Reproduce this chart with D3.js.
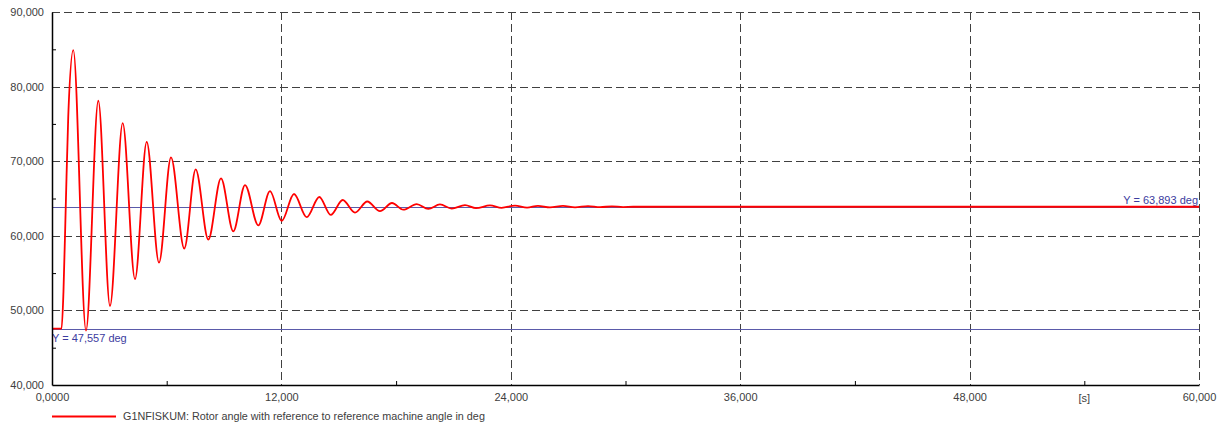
<!DOCTYPE html>
<html>
<head>
<meta charset="utf-8">
<script src="https://cdn.jsdelivr.net/npm/d3@7"></script>
<style>
  html, body { margin: 0; padding: 0; background: #ffffff; }
  svg { display: block; }
  text { font-family: "Liberation Sans", Arial, sans-serif; }
</style>
</head>
<body>
<svg id="chart" width="1223" height="427"></svg>
<script>
// ---- data ----
const timeS = [0, 0.5, 0.6, 0.72, 0.85, 1.114, 1.779, 2.422, 3.034, 3.698, 4.342, 4.954, 5.597, 6.225, 6.92,
  7.517, 8.176, 8.84, 9.484, 10.096, 10.791, 11.404, 12.015, 12.659, 13.323, 13.982, 14.579, 15.206, 15.85,
  16.493, 17.157, 17.785, 18.376, 19.077, 19.684, 20.296, 20.908, 21.604, 22.18, 22.91, 23.52, 24.22, 24.85,
  25.42, 26.05, 26.73, 27.36, 28.04, 28.67, 29.29, 29.87, 30.4, 60];
const rotorAngle = [47.557, 47.557, 52.5, 64.0, 76.0, 84.9, 47.3, 78.1, 50.6, 75.1, 54.2, 72.6, 56.4, 70.5, 58.3,
  68.9, 59.5, 67.7, 60.6, 66.8, 61.4, 66.0, 62.0, 65.6, 62.5, 65.2, 62.8, 64.8, 63.1,
  64.6, 63.3, 64.4, 63.5, 64.25, 63.6, 64.2, 63.65, 64.12, 63.7, 64.08, 63.75, 64.05, 63.78,
  64.02, 63.8, 64.0, 63.82, 63.98, 63.84, 63.95, 63.85, 63.893, 63.893];
const xMajorTicks = [0, 12, 24, 36, 48, 60];
const xMajorLabels = ["0,0000", "12,000", "24,000", "36,000", "48,000", "60,000"];
const xMinorTicks = [6, 18, 30, 42, 54];
const yMajorTicks = [40, 50, 60, 70, 80, 90];
const yMajorLabels = ["40,000", "50,000", "60,000", "70,000", "80,000", "90,000"];
const yMinorTicks = [45, 55, 65, 75, 85];
const refLines = [47.557, 63.893];
const refLabels = ["Y = 47,557 deg", "Y = 63,893 deg"];
const xUnitLabel = "[s]";
const xUnitPos = 54;
const legendText = "G1NFISKUM: Rotor angle with reference to reference machine angle in deg";

// ---- layout ----
const svg = d3.select("#chart");
const pL = 52, pR = 1199, pT = 12, pB = 385;
const x = d3.scaleLinear().domain([0, 60]).range([pL, pR]);
const y = d3.scaleLinear().domain([40, 90]).range([pB, pT]);
const textColor = "#404040";
const gridColor = "#404040";

// grid (dashed)
const grid = svg.append("g");
yMajorTicks.filter(v => v > 40).forEach(v => {
  grid.append("line")
    .attr("x1", pL).attr("x2", pR)
    .attr("y1", Math.round(y(v)) + 0.5).attr("y2", Math.round(y(v)) + 0.5)
    .attr("stroke", gridColor).attr("stroke-width", 1).attr("stroke-dasharray", "8,4");
});
xMajorTicks.filter(v => v > 0).forEach(v => {
  grid.append("line")
    .attr("x1", Math.round(x(v)) + 0.5).attr("x2", Math.round(x(v)) + 0.5)
    .attr("y1", pT).attr("y2", pB)
    .attr("stroke", gridColor).attr("stroke-width", 1).attr("stroke-dasharray", "8,4");
});

// reference lines
const refColor = "#5a5aaa";
refLines.forEach(v => {
  svg.append("line")
    .attr("x1", pL).attr("x2", pR)
    .attr("y1", Math.round(y(v)) + 0.5).attr("y2", Math.round(y(v)) + 0.5)
    .attr("stroke", refColor).attr("stroke-width", 1);
});
svg.append("text")
  .attr("x", pL).attr("y", Math.round(y(refLines[0])) + 13)
  .attr("font-size", 11).attr("fill", "#3c3ca0")
  .text(refLabels[0]);
svg.append("text")
  .attr("x", pR - 1).attr("y", Math.round(y(refLines[1])) - 3)
  .attr("text-anchor", "end")
  .attr("font-size", 11).attr("fill", "#3c3ca0")
  .text(refLabels[1]);

// data line
const pts = timeS.map((t, i) => [t, rotorAngle[i]]);
const line = d3.line()
  .x(d => x(d[0])).y(d => y(d[1]))
  .curve(d3.curveMonotoneX);
svg.append("path")
  .datum(pts)
  .attr("d", line)
  .attr("fill", "none")
  .attr("stroke", "#ff0000")
  .attr("stroke-width", 1.8)
  .attr("stroke-linejoin", "round");

// axes
const yAxis = d3.axisLeft(y).tickValues(yMajorTicks).tickSize(0)
  .tickFormat((d, i) => yMajorLabels[i]).tickPadding(8);
const yG = svg.append("g").attr("transform", `translate(${pL},0)`).call(yAxis);
yG.select(".domain").attr("stroke", "#000").attr("stroke-width", 1.5);
yG.selectAll("text").attr("font-size", 11).attr("fill", textColor)
  .attr("font-family", "Liberation Sans, Arial, sans-serif");

const yMinor = d3.axisRight(y).tickValues(yMinorTicks).tickSize(4).tickFormat("");
const yMG = svg.append("g").attr("transform", `translate(${pL},0)`).call(yMinor);
yMG.select(".domain").remove();
yMG.selectAll("line").attr("stroke", "#000");

const xAxis = d3.axisBottom(x).tickValues(xMajorTicks).tickSize(0)
  .tickFormat((d, i) => xMajorLabels[i]).tickPadding(8);
const xG = svg.append("g").attr("transform", `translate(0,${pB})`).call(xAxis);
xG.select(".domain").attr("stroke", "#000").attr("stroke-width", 1.5);
xG.selectAll("text").attr("font-size", 11).attr("fill", textColor)
  .attr("font-family", "Liberation Sans, Arial, sans-serif");

const xMinor = d3.axisTop(x).tickValues(xMinorTicks).tickSize(4).tickFormat("");
const xMG = svg.append("g").attr("transform", `translate(0,${pB})`).call(xMinor);
xMG.select(".domain").remove();
xMG.selectAll("line").attr("stroke", "#000");

svg.append("text")
  .attr("x", x(xUnitPos)).attr("y", pB + 17)
  .attr("text-anchor", "middle")
  .attr("font-size", 11).attr("fill", textColor)
  .text(xUnitLabel);

// legend
svg.append("line")
  .attr("x1", 52).attr("x2", 116).attr("y1", 416.5).attr("y2", 416.5)
  .attr("stroke", "#ff0000").attr("stroke-width", 2);
svg.append("text")
  .attr("x", 123).attr("y", 420)
  .attr("font-size", 10.8).attr("fill", textColor)
  .text(legendText);
</script>
</body>
</html>
